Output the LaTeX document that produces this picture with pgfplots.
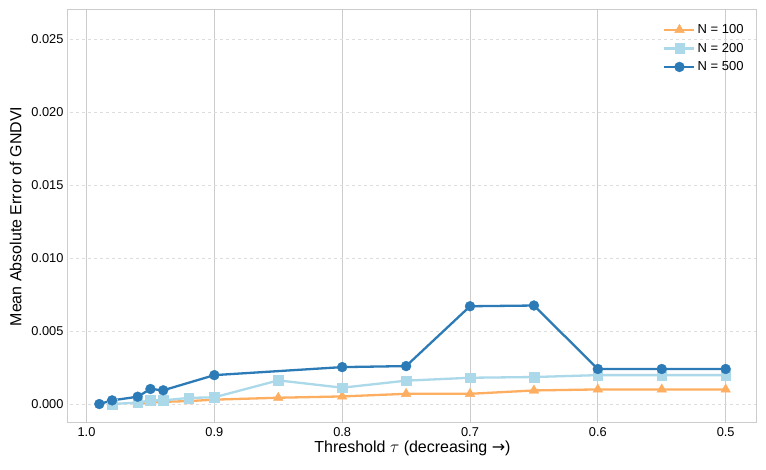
\documentclass[border=0pt]{standalone}
\usepackage{pgfplots}
\pgfplotsset{compat=1.18}
\usepackage{fontspec}
\setmainfont{Liberation Sans}
\newfontfamily\dejavu{DejaVu Sans}
\definecolor{cA}{HTML}{FDAE61}
\definecolor{cB}{HTML}{ABD9E9}
\definecolor{cC}{HTML}{2C7BB6}
\definecolor{gridc}{HTML}{CCCCCC}
\definecolor{gridd}{HTML}{DDDDDD}
\begin{document}
\begin{tikzpicture}[x=1pt,y=1pt]
\begin{axis}[
  at={(0,0)}, anchor=south west,
  scale only axis, width=689pt, height=413pt,
  x dir=reverse,
  xmin=0.4755, xmax=1.0145,
  ymin=-0.0013, ymax=0.027,
  xtick={0.5,0.6,0.7,0.8,0.9,1.0},
  ytick={0,0.005,0.01,0.015,0.02,0.025},
  scaled x ticks=false, scaled y ticks=false,
  xticklabel style={/pgf/number format/fixed, /pgf/number format/fixed zerofill, /pgf/number format/precision=1, yshift=-1pt},
  yticklabel style={/pgf/number format/fixed, /pgf/number format/fixed zerofill, /pgf/number format/precision=3, xshift=-1pt},
  /pgf/number format/assume math mode=true,
  tick label style={font=\fontsize{12.8}{15}\selectfont},
  major tick length=0pt,
  axis line style={gridc, line width=1pt},
  xmajorgrids, ymajorgrids,
  x grid style={gridc, line width=1pt},
  y grid style={gridd, dashed, line width=0.8pt},
  xlabel={Threshold $\tau$ (decreasing {\dejavu →})},
  ylabel={Mean Absolute Error of GNDVI},
  label style={font=\fontsize{16}{19}\selectfont},
  xlabel style={yshift=3pt},
  ylabel style={yshift=3pt},
  legend style={draw=none, fill=none, at={(0.988,0.975)}, anchor=north east, font=\fontsize{13}{15}\selectfont, row sep=4pt},
  legend cell align=left,
  legend image code/.code={\draw[mark repeat=2,mark phase=2] plot coordinates {(0pt,0pt) (15pt,0pt) (30pt,0pt)};},
]
\addplot[cA, line width=2.3pt, mark=triangle*, mark size=5.6pt, mark options={line width=0.3pt}] coordinates {
(0.96,0.00003) (0.95,0.0001) (0.94,0.00015) (0.92,0.0002) (0.9,0.0003)
(0.85,0.00043) (0.8,0.00052) (0.75,0.0007) (0.7,0.0007) (0.65,0.00093)
(0.6,0.001) (0.55,0.001) (0.5,0.001)};
\addlegendentry{N = 100}
\addplot[cB, line width=2.3pt, mark=square*, mark size=4.8pt, mark options={line width=0.3pt}] coordinates {
(0.98,0) (0.96,0.0001) (0.95,0.00025) (0.94,0.00025) (0.92,0.00042) (0.9,0.00046)
(0.85,0.00162) (0.8,0.00112) (0.75,0.0016) (0.7,0.0018) (0.65,0.00185)
(0.6,0.00198) (0.55,0.00198) (0.5,0.00198)};
\addlegendentry{N = 200}
\addplot[cC, line width=2.3pt, mark=*, mark size=5pt, mark options={line width=0.3pt}] coordinates {
(0.99,0) (0.98,0.00025) (0.96,0.0005) (0.95,0.00103) (0.94,0.00094) (0.9,0.00198)
(0.8,0.00253) (0.75,0.0026) (0.7,0.0067) (0.65,0.00675)
(0.6,0.0024) (0.55,0.0024) (0.5,0.0024)};
\addlegendentry{N = 500}
\end{axis}
\pgfresetboundingbox
\useasboundingbox (-68,-47) rectangle (698,423);
\end{tikzpicture}
\end{document}
